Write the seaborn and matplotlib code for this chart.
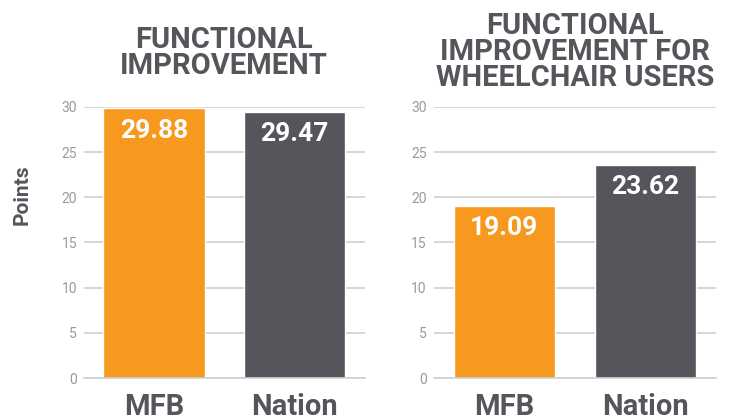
import matplotlib
matplotlib.use("Agg")
import matplotlib.pyplot as plt
import seaborn as sns

# data
categories = ["MFB", "Nation"]
overall_values = [29.88, 29.47]
wheelchair_values = [19.09, 23.62]
titles = ["FUNCTIONAL\nIMPROVEMENT", "FUNCTIONAL\nIMPROVEMENT FOR\nWHEELCHAIR USERS"]
y_ticks = [0, 5, 10, 15, 20, 25, 30]

ORANGE = "#F7991F"
DARK = "#55565B"
GRID = "#CFCFCF"
TICK = "#9A9A9A"

sns.set_theme(style="white")
plt.rcParams["font.family"] = ["Roboto", "DejaVu Sans"]

fig = plt.figure(figsize=(7.29, 4.17), dpi=100)
ax1 = fig.add_axes([0.115, 0.0935, 0.385, 0.65])
ax2 = fig.add_axes([0.595, 0.0935, 0.387, 0.65])

# title bottoms in figure coords (left chart sits a bit higher above its axes)
title_y = [1 - 80 / 417, 1 - 92 / 417]

for k, (ax, vals) in enumerate([(ax1, overall_values), (ax2, wheelchair_values)]):
    ax.set_axisbelow(True)
    sns.barplot(x=categories, y=vals, hue=categories, palette=[ORANGE, DARK],
                width=0.72, legend=False, saturation=1, ax=ax)
    ax.set_ylim(0, 30)
    ax.set_xlim(-0.5, 1.5)
    ax.set_yticks(y_ticks)
    ax.yaxis.grid(True, color=GRID, linewidth=1.2)
    for s in ["top", "right", "left"]:
        ax.spines[s].set_visible(False)
    ax.spines["bottom"].set_color(GRID)
    ax.spines["bottom"].set_linewidth(1.2)
    ax.tick_params(axis="y", length=0, labelsize=10, labelcolor=TICK, pad=5)
    ax.tick_params(axis="x", length=0, pad=11)
    for lbl in ax.get_xticklabels():
        lbl.set_fontsize(21)
        lbl.set_fontweight("bold")
        lbl.set_color(DARK)
    for i, v in enumerate(vals):
        ax.text(i, v - 2.5, f"{v:.2f}", ha="center", va="center",
                color="white", fontsize=19, fontweight="bold")
    ax.set_ylabel("")
    bbox = ax.get_position()
    fig.text((bbox.x0 + bbox.x1) / 2, title_y[k], titles[k], ha="center", va="bottom",
             fontsize=21, fontweight="bold", color=DARK, linespacing=0.92)

fig.text(0.03, 0.533, "Points", rotation=90, ha="center", va="center",
         fontsize=15, fontweight="bold", color=DARK)

fig.savefig("out.png", dpi=100)
